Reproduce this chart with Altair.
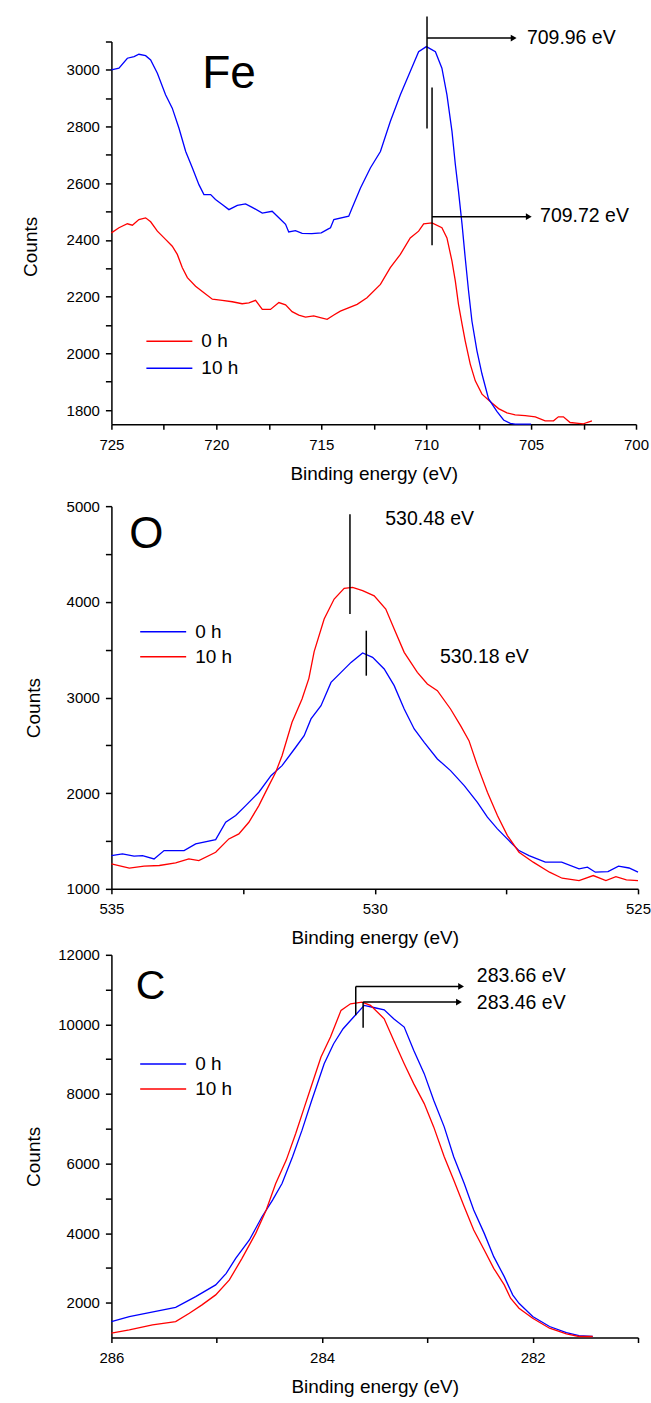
import altair as alt
import pandas as pd

FONT = "Liberation Sans"

# ---------------- Fe panel ----------------
fe_energy_0h = [725.0, 724.64, 724.24, 724.0, 723.69, 723.37, 723.13, 722.81, 722.42, 722.1, 721.86, 721.62,
                721.38, 720.99, 720.59, 720.19, 719.72, 719.24, 718.77, 718.45, 718.13, 717.81, 717.42, 717.02,
                716.7, 716.39, 716.07, 715.75, 715.36, 715.0, 714.72, 714.4, 714.09, 713.29, 712.82, 712.18,
                711.71, 711.23, 710.76, 710.36, 710.12, 709.72, 709.25, 709.01, 708.77, 708.61, 708.46, 708.29,
                708.14, 707.9, 707.66, 707.34, 706.95, 706.55, 706.15, 705.76, 705.28, 704.8, 704.33, 703.93,
                703.7, 703.46, 703.14, 702.74, 702.5, 702.34, 702.1]
fe_counts_0h = [2425, 2443, 2457, 2452, 2472, 2478, 2464, 2431, 2402, 2378, 2349, 2302, 2267, 2237, 2214, 2191,
                2187, 2182, 2175, 2178, 2187, 2155, 2155, 2179, 2171, 2147, 2135, 2128, 2132, 2125, 2120, 2135,
                2149, 2173, 2196, 2243, 2302, 2349, 2407, 2431, 2457, 2460, 2443, 2407, 2325, 2255, 2173, 2103,
                2044, 1962, 1903, 1856, 1830, 1805, 1790, 1783, 1780, 1776, 1762, 1762, 1776, 1776, 1756, 1753,
                1751, 1756, 1762]
fe_energy_10h = [725.0, 724.64, 724.24, 723.92, 723.69, 723.37, 723.13, 722.81, 722.42, 722.1, 721.78, 721.46,
                 721.14, 720.83, 720.59, 720.27, 720.04, 719.72, 719.4, 719.0, 718.61, 718.29, 717.81, 717.34,
                 717.02, 716.7, 716.55, 716.23, 715.91, 715.45, 715.0, 714.66, 714.56, 714.4, 713.69, 713.53,
                 713.13, 712.66, 712.18, 711.71, 711.23, 710.76, 710.36, 709.99, 709.56, 709.25, 709.01, 708.77,
                 708.61, 708.46, 708.29, 708.14, 707.98, 707.82, 707.58, 707.34, 707.03, 706.63, 706.31, 705.99,
                 705.76, 705.0]
fe_counts_10h = [3000, 3006, 3041, 3047, 3055, 3050, 3035, 2988, 2912, 2865, 2794, 2712, 2654, 2595, 2560, 2560,
                 2543, 2525, 2507, 2522, 2527, 2515, 2495, 2501, 2478, 2455, 2428, 2433, 2423, 2422, 2425, 2439,
                 2443, 2472, 2484, 2513, 2583, 2654, 2712, 2818, 2912, 2994, 3064, 3082, 3064, 3006, 2912, 2783,
                 2666, 2572, 2455, 2337, 2220, 2114, 2009, 1927, 1840, 1795, 1765, 1753, 1750, 1750]
fe_colors = ["#ff0000", "#0000ff"]          # 0 h, 10 h
fe_x_ticks = [725, 722.5, 720, 717.5, 715, 712.5, 710, 707.5, 705, 702.5, 700]
fe_y_ticks = [1800, 1900, 2000, 2100, 2200, 2300, 2400, 2500, 2600, 2700, 2800, 2900, 3000, 3100]
fe_vline_e = [709.96, 709.72]
fe_vline_top = [3188, 2938]
fe_vline_bottom = [2793, 2381]
fe_arrow_y = [3112, 2482]
fe_arrow_start = [709.96, 709.72]
fe_arrow_head = [705.83, 705.11]
fe_note_text = ["709.96 eV", "709.72 eV"]
fe_note_e = [705.2, 704.57]
fe_note_v = [3114, 2484]

# ---------------- O panel ----------------
o_energy_0h = [535.0, 534.79, 534.57, 534.41, 534.19, 534.0, 533.62, 533.4, 533.02, 532.83, 532.64, 532.45,
               532.2, 531.97, 531.76, 531.5, 531.34, 531.21, 531.02, 530.83, 530.64, 530.45, 530.23, 530.04,
               529.82, 529.63, 529.44, 529.25, 529.06, 528.81, 528.56, 528.3, 528.05, 527.86, 527.67, 527.42,
               527.26, 527.07, 526.76, 526.45, 526.12, 525.96, 525.81, 525.57, 525.37, 525.17, 525.0]
o_counts_0h = [1348, 1366, 1342, 1348, 1313, 1400, 1400, 1470, 1515, 1696, 1766, 1870, 2010, 2183, 2288, 2480,
               2601, 2776, 2915, 3158, 3263, 3367, 3465, 3420, 3298, 3124, 2880, 2671, 2532, 2358, 2236, 2079,
               1905, 1749, 1627, 1488, 1400, 1348, 1279, 1279, 1209, 1226, 1174, 1180, 1237, 1218, 1174]
o_energy_10h = [535.0, 534.66, 534.38, 534.09, 533.78, 533.53, 533.34, 533.02, 532.77, 532.58, 532.39, 532.2,
                532.01, 531.88, 531.76, 531.57, 531.38, 531.25, 531.15, 530.96, 530.77, 530.58, 530.42, 530.23,
                530.01, 529.79, 529.63, 529.44, 529.19, 529.0, 528.81, 528.56, 528.37, 528.21, 528.05, 527.86,
                527.67, 527.48, 527.26, 526.99, 526.68, 526.44, 526.12, 525.85, 525.61, 525.42, 525.22, 525.0]
o_counts_10h = [1261, 1216, 1237, 1244, 1272, 1313, 1296, 1383, 1522, 1574, 1696, 1870, 2079, 2218, 2392, 2741,
                2984, 3200, 3480, 3820, 4029, 4141, 4151, 4116, 4063, 3924, 3715, 3472, 3263, 3141, 3071, 2880,
                2706, 2549, 2288, 2010, 1766, 1557, 1383, 1279, 1174, 1111, 1087, 1139, 1087, 1128, 1094, 1087]
o_colors = ["#0000ff", "#ff0000"]           # 0 h, 10 h
o_x_ticks = [535, 532.5, 530, 527.5, 525]
o_y_ticks = [1000, 1500, 2000, 2500, 3000, 3500, 4000, 4500, 5000]
o_vline_e = [530.47, 530.16]
o_vline_top = [4916, 3698]
o_vline_bottom = [3872, 3228]
o_note_text = ["530.48 eV", "530.18 eV"]
o_note_e = [529.80, 528.76]
o_note_v = [4864, 3423]

# ---------------- C panel ----------------
c_energy_0h = [286.0, 285.83, 285.64, 285.39, 285.2, 285.01, 284.91, 284.82, 284.69, 284.57, 284.47, 284.38,
               284.28, 284.19, 284.1, 283.98, 283.89, 283.8, 283.7, 283.6, 283.5, 283.41, 283.32, 283.22,
               283.13, 283.03, 282.94, 282.84, 282.75, 282.65, 282.56, 282.46, 282.37, 282.27, 282.19, 282.13,
               282.0, 281.84, 281.68, 281.56, 281.43]
c_counts_0h = [1459, 1603, 1717, 1869, 2176, 2512, 2845, 3275, 3803, 4472, 4951, 5428, 6194, 6960, 7800, 8871,
               9445, 9876, 10211, 10546, 10478, 10421, 10162, 9924, 9255, 8584, 7820, 7054, 6194, 5428, 4664,
               3993, 3324, 2750, 2225, 1984, 1603, 1316, 1143, 1057, 1029]
c_energy_10h = [286.0, 285.83, 285.61, 285.39, 285.26, 285.14, 285.01, 284.88, 284.76, 284.63, 284.53, 284.44,
                284.34, 284.25, 284.17, 284.11, 284.01, 283.92, 283.82, 283.73, 283.62, 283.54, 283.41, 283.32,
                283.22, 283.13, 283.03, 282.94, 282.84, 282.75, 282.65, 282.56, 282.46, 282.37, 282.27, 282.21,
                282.13, 282.0, 281.84, 281.68, 281.56, 281.43]
c_counts_10h = [1123, 1221, 1364, 1459, 1697, 1938, 2225, 2656, 3275, 3993, 4664, 5428, 6099, 6862, 7600, 8150,
                9063, 9637, 10403, 10593, 10641, 10546, 10162, 9542, 8871, 8297, 7723, 7054, 6194, 5525, 4759,
                4090, 3516, 2989, 2512, 2128, 1841, 1554, 1267, 1106, 1029, 1029]
c_colors = ["#0000ff", "#ff0000"]           # 0 h, 10 h
c_x_ticks = [286, 285, 284, 283, 282, 281]
c_y_ticks = [2000, 3000, 4000, 5000, 6000, 7000, 8000, 9000, 10000, 11000, 12000]
c_vline_e = [283.68, 283.61]
c_vline_top = [11092, 10641]
c_vline_bottom = [10260, 9904]
c_arrow_y = [11092, 10641]
c_arrow_start = [283.68, 283.61]
c_arrow_head = [282.68, 282.70]
c_note_text = ["283.66 eV", "283.46 eV"]
c_note_e = [282.53, 282.53]
c_note_v = [11379, 10613]

series_names = ["0 h", "10 h"]


def panel(e0, c0, e10, c10, colors, xdom, xticks, xmod, ydom, yticks, ymod, width,
          title_x, title_y, letter, letter_e, letter_v, letter_size,
          vl_e, vl_top, vl_bot, ar_y, ar_start, ar_head, note_text, note_e, note_v,
          leg_x, leg_y, leg_clip):
    xs = alt.Scale(domain=xdom, reverse=True, nice=False, zero=False)
    ys = alt.Scale(domain=ydom, nice=False, zero=False)
    xaxis = alt.Axis(title="Binding energy (eV)", values=xticks, format="d",
                     labelExpr=f"datum.value % {xmod} == 0 ? datum.label : ''",
                     labelFlush=False, labelOverlap=False, tickSize=5, labelPadding=8,
                     titleY=40, titleBaseline="top", grid=False)
    yaxis = alt.Axis(title="Counts", values=yticks, format="d",
                     labelExpr=f"datum.value % {ymod} == 0 ? datum.label : ''",
                     labelOverlap=False, tickSize=6, labelPadding=6, grid=False,
                     titleX=title_x, titleY=title_y, titleAngle=270, titleBaseline="top",
                     titleAlign="center")
    X = lambda f: alt.X(f, scale=xs, axis=xaxis)
    Y = lambda f: alt.Y(f, scale=ys, axis=yaxis)

    curves = pd.DataFrame({
        "E": list(e0) + list(e10),
        "V": list(c0) + list(c10),
        "series": [series_names[0]] * len(e0) + [series_names[1]] * len(e10),
    })
    lines = alt.Chart(curves).mark_line(strokeWidth=1.3).encode(
        x=X("E:Q"), y=Y("V:Q"),
        color=alt.Color("series:N",
                        scale=alt.Scale(domain=series_names, range=colors),
                        legend=alt.Legend(orient="none", legendX=leg_x, legendY=leg_y, title=None,
                                          symbolType="stroke", symbolSize=2116, symbolStrokeWidth=1.5,
                                          labelFontSize=19, labelFont=FONT, labelColor="black",
                                          labelOffset=8, clipHeight=leg_clip, rowPadding=0, padding=0)),
        order=alt.Order("E:Q"),
    )
    layers = [lines]

    vdf = pd.DataFrame({"E": vl_e, "V": vl_top, "V2": vl_bot})
    layers.append(alt.Chart(vdf).mark_rule(color="black", strokeWidth=1.5).encode(
        x=X("E:Q"), y=Y("V:Q"), y2="V2:Q"))

    if ar_y:
        hdf = pd.DataFrame({"E": ar_start, "E2": ar_head, "V": ar_y})
        layers.append(alt.Chart(hdf).mark_rule(color="black", strokeWidth=1.5).encode(
            x=X("E:Q"), x2="E2:Q", y=Y("V:Q")))
        pdf = pd.DataFrame({"E": ar_head, "V": ar_y})
        layers.append(alt.Chart(pdf).mark_point(shape="triangle-right", filled=True, size=45,
                                                 color="black", opacity=1).encode(
            x=X("E:Q"), y=Y("V:Q")))

    ndf = pd.DataFrame({"E": note_e, "V": note_v, "t": note_text})
    layers.append(alt.Chart(ndf).mark_text(align="left", baseline="middle", fontSize=19.5, font=FONT,
                                           color="black").encode(
        x=X("E:Q"), y=Y("V:Q"), text="t:N"))

    ldf = pd.DataFrame({"E": [letter_e], "V": [letter_v], "t": [letter]})
    layers.append(alt.Chart(ldf).mark_text(align="left", baseline="alphabetic", fontSize=letter_size,
                                           font=FONT, color="black").encode(
        x=X("E:Q"), y=Y("V:Q"), text="t:N"))

    return alt.layer(*layers).properties(width=width, height=383)


fe_chart = panel(fe_energy_0h, fe_counts_0h, fe_energy_10h, fe_counts_10h, fe_colors,
                 [700, 725], fe_x_ticks, 5, [1750, 3100], fe_y_ticks, 200, 525,
                 -90.2, 205, "Fe", 720.67, 2935, 46,
                 fe_vline_e, fe_vline_top, fe_vline_bottom, fe_arrow_y, fe_arrow_start, fe_arrow_head,
                 fe_note_text, fe_note_e, fe_note_v, 34, 286.6, 26.7)

o_chart = panel(o_energy_0h, o_counts_0h, o_energy_10h, o_counts_10h, o_colors,
                [525, 535], o_x_ticks, 5, [1000, 5000], o_y_ticks, 1000, 527,
                -86.8, 201.6, "O", 534.66, 4561, 44,
                o_vline_e, o_vline_top, o_vline_bottom, [], [], [],
                o_note_text, o_note_e, o_note_v, 27.8, 113.4, 24.4)

c_chart = panel(c_energy_0h, c_counts_0h, c_energy_10h, c_counts_10h, c_colors,
                [281, 286], c_x_ticks, 2, [1000, 12000], c_y_ticks, 2000, 527,
                -86.8, 201.7, "C", 285.77, 10727, 41,
                c_vline_e, c_vline_top, c_vline_bottom, c_arrow_y, c_arrow_start, c_arrow_head,
                c_note_text, c_note_e, c_note_v, 27.8, 96.9, 25)

lower = alt.vconcat(o_chart, c_chart, spacing=0).resolve_scale(color="independent")
chart = alt.vconcat(fe_chart, lower, spacing=16).resolve_scale(color="independent").properties(
    padding={"left": 20.5, "top": 15, "right": 0, "bottom": 5},
    background="white",
)
chart = chart.configure(font=FONT).configure_axis(
    domainColor="black", domainWidth=1.5, tickColor="black", tickWidth=1.5,
    labelColor="black", titleColor="black", labelFont=FONT, titleFont=FONT,
    labelFontSize=15, titleFontSize=19, titleFontWeight="normal",
).configure_view(stroke=None)

chart.save("out.html", embed_options={"renderer": "svg", "actions": False})
